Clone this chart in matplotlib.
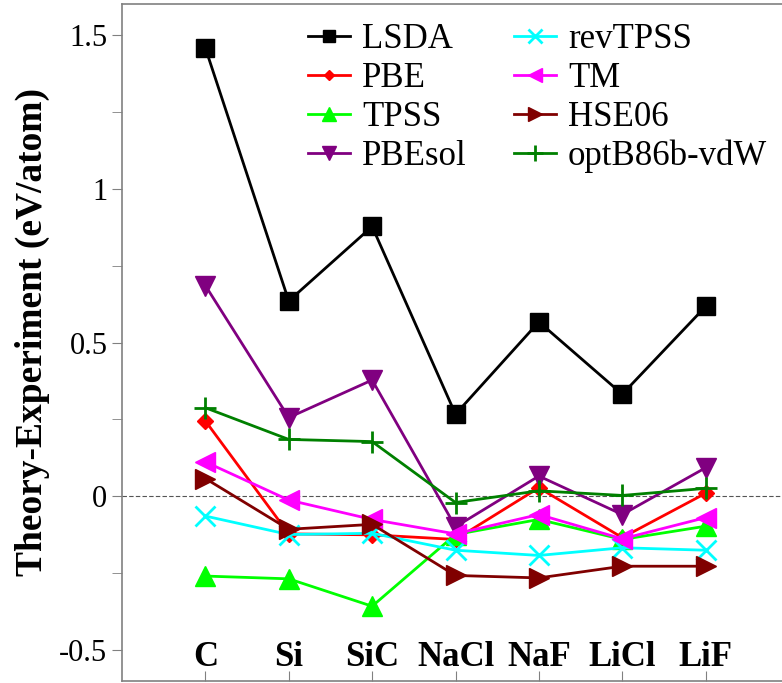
import numpy as np
import matplotlib
matplotlib.use('Agg')
import matplotlib.pyplot as plt
from matplotlib import font_manager as fm
from matplotlib.ticker import MultipleLocator


def serif(size, bold=False):
    # Times-like face (Liberation Serif is metric compatible with Times New Roman)
    return fm.FontProperties(family=['Liberation Serif', 'FreeSerif', 'DejaVu Serif'],
                             weight='bold' if bold else 'normal', size=size)


systems = ['C', 'Si', 'SiC', 'NaCl', 'NaF', 'LiCl', 'LiF']

lsda = [1.457, 0.635, 0.877, 0.267, 0.567, 0.332, 0.617]
pbe = [0.245, -0.122, -0.125, -0.14, 0.028, -0.134, 0.01]
tpss = [-0.259, -0.268, -0.357, -0.124, -0.075, -0.14, -0.097]
pbesol = [0.685, 0.256, 0.378, -0.099, 0.066, -0.059, 0.093]
revtpss = [-0.064, -0.124, -0.12, -0.175, -0.192, -0.167, -0.175]
tm = [0.112, -0.012, -0.075, -0.122, -0.059, -0.138, -0.069]
hse06 = [0.058, -0.107, -0.091, -0.257, -0.265, -0.227, -0.227]
optb86b = [0.288, 0.185, 0.178, -0.02, 0.018, 0.003, 0.026]

yticks = [-0.5, 0, 0.5, 1, 1.5]
ytick_labels = ['-0.5', '0', '0.5', '1', '1.5']

series = [
    ('LSDA', lsda, 'black', 's', 13),
    ('PBE', pbe, '#ff0000', 'D', 8),
    ('TPSS', tpss, '#00ff00', '^', 14),
    ('PBEsol', pbesol, '#800080', 'v', 14),
    ('revTPSS', revtpss, '#00ffff', 'x', 15),
    ('TM', tm, '#ff00ff', '<', 14),
    ('HSE06', hse06, '#800000', '>', 14),
    ('optB86b-vdW', optb86b, '#008000', '+', 16),
]

fig = plt.figure(figsize=(7.82, 6.83), dpi=100)
ax = fig.add_axes([122/782, 2/683, 667/782, 677/683])

x = np.arange(len(systems))
ax.axhline(0, color='#555555', linestyle='--', linewidth=0.8, dashes=(4, 2))
for name, vals, col, mk, ms in series:
    ax.plot(x, vals, color=col, marker=mk, markersize=ms, linewidth=2,
            markeredgewidth=2 if mk in ('x', '+') else 1, label=name)

ax.set_xlim(-1, 7)
ax.set_ylim(-0.6, 1.6)
ax.set_xticks(x)
ax.set_xticklabels(systems, fontproperties=serif(25, bold=True))
ax.tick_params(axis='x', direction='in', length=7, pad=-29, color='#808080')
ax.yaxis.set_minor_locator(MultipleLocator(0.25))
ax.set_yticks(yticks)
ax.set_yticklabels(ytick_labels, fontproperties=serif(22))
ax.tick_params(axis='y', which='both', direction='out', length=7, color='#808080')
for s in ax.spines.values():
    s.set_color('#808080')
    s.set_linewidth(1.2)

ax.set_ylabel('Theory-Experiment (eV/atom)', fontproperties=serif(27, bold=True))
ax.yaxis.set_label_coords(-0.108, 0.515)

fig.legend(loc='upper left', bbox_to_anchor=(308/782, 1 - 23/683), ncol=2,
           frameon=False, prop=serif(25),
           handlelength=1.2, handletextpad=0.35, columnspacing=1.37,
           labelspacing=0.17, markerscale=0.7, borderpad=0, borderaxespad=0)

fig.savefig('out.png', dpi=100)
